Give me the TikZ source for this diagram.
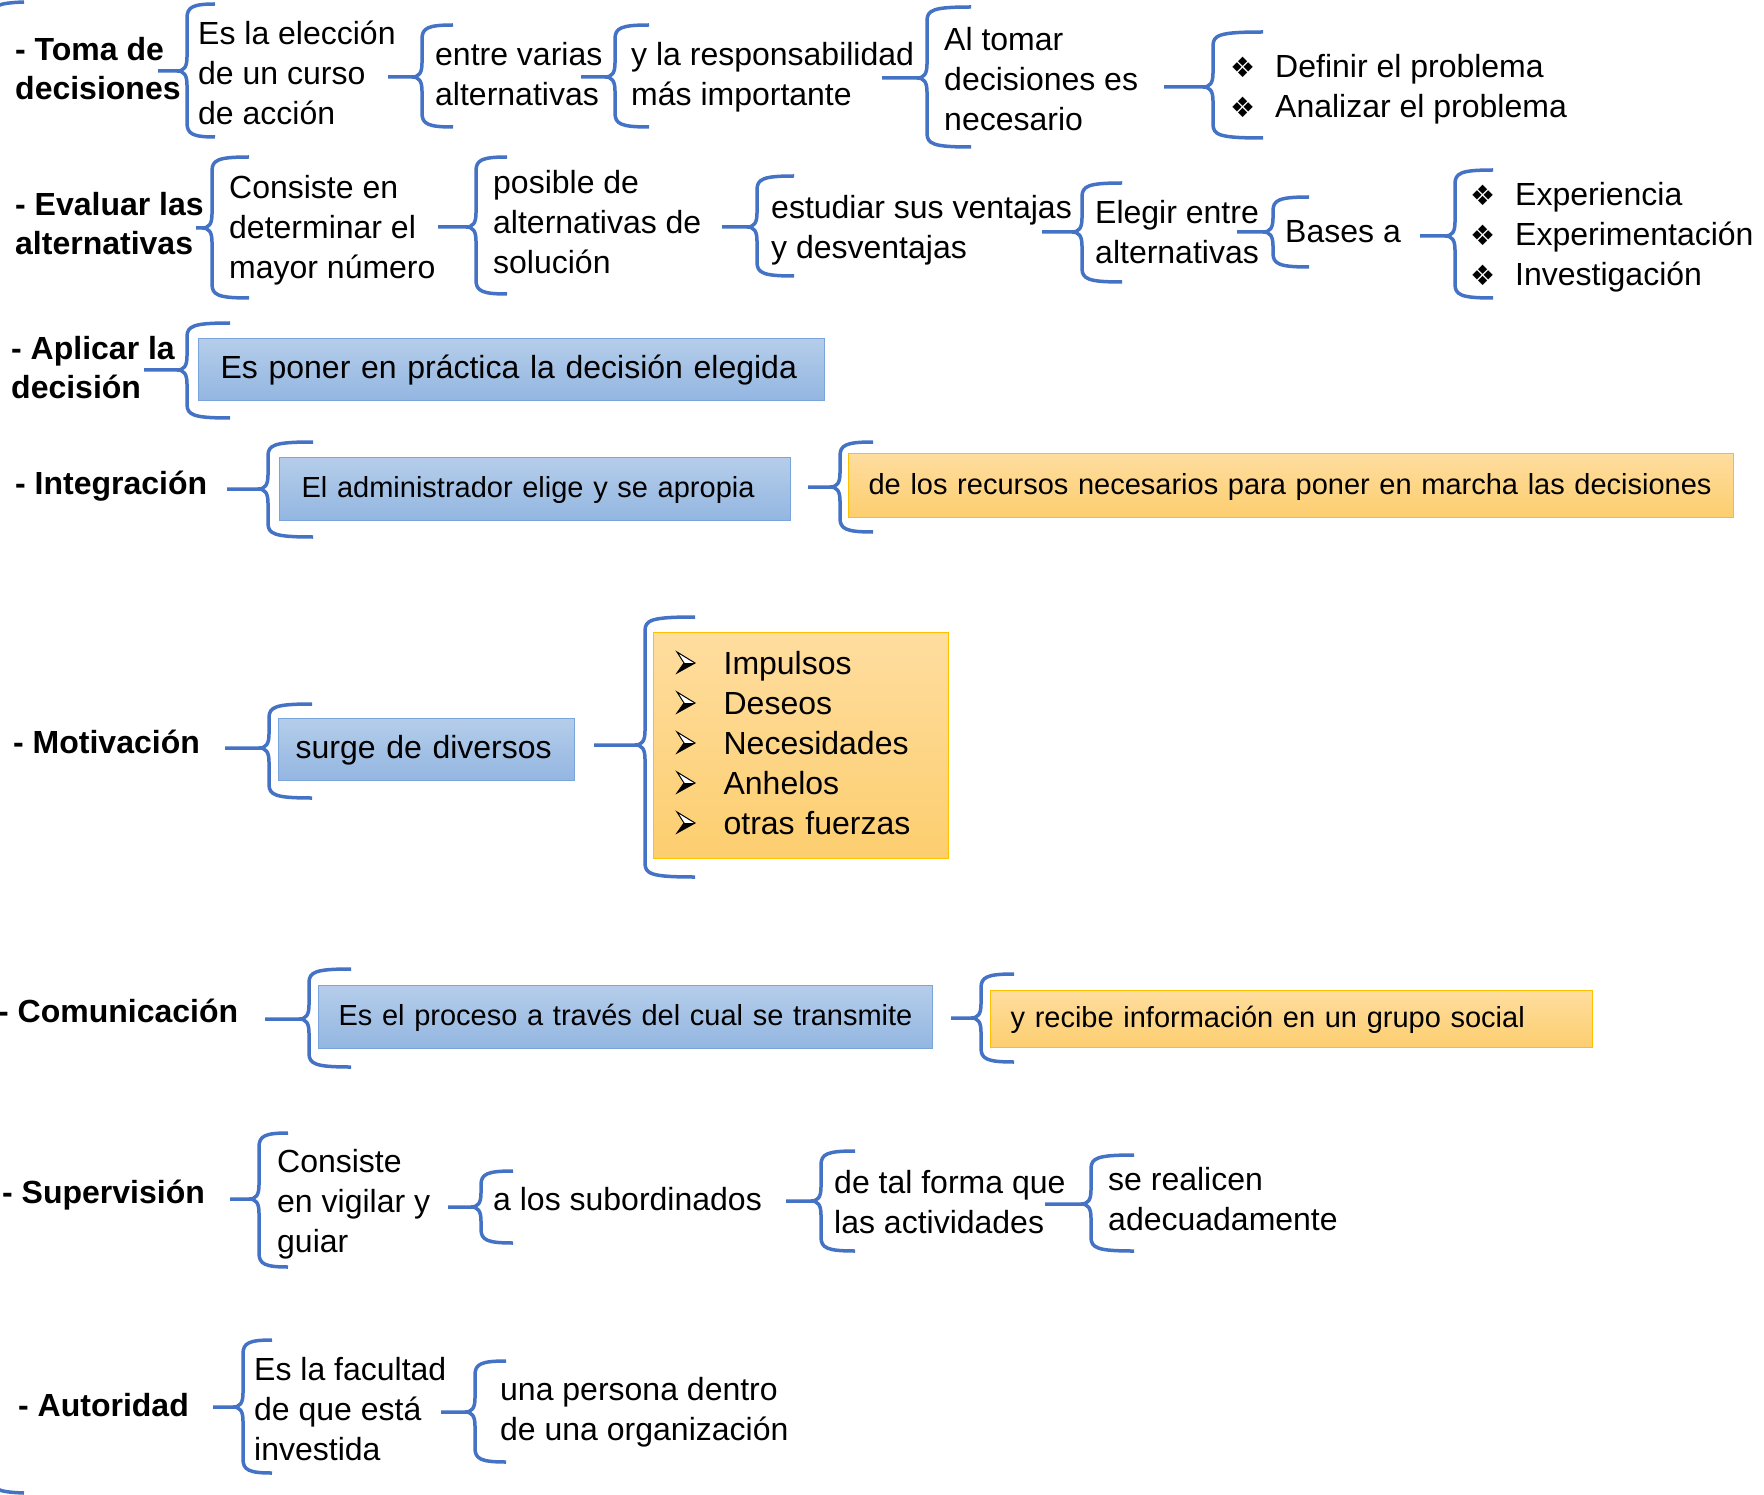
\documentclass[tikz,border=0pt]{standalone}
\usepackage{fontspec}
\setmainfont{Liberation Sans}
\newfontfamily\symfont{DejaVu Sans}

\definecolor{bracecol}{HTML}{4472C4}
\definecolor{blutop}{HTML}{B5CDEA}
\definecolor{blubot}{HTML}{93B6E1}
\definecolor{bluline}{HTML}{7AA5DA}
\definecolor{yeltop}{HTML}{FEDD9F}
\definecolor{yelbot}{HTML}{FDCE6F}
\definecolor{yelline}{HTML}{FFC000}

\newcommand{\tstrut}{\rule[-11pt]{0pt}{39pt}}
\newcommand{\dia}{\makebox[45pt][l]{\symfont\fontsize{28}{28}\selectfont ❖}}
\newcommand{\arrgap}{\hspace*{46pt}}
% brace: stub x, spine x, arm x, top y, bottom y, tip y
\newcommand{\cbrace}[6]{%
  \draw[brc] (#1,#6) -- (#2-10,#6) .. controls (#2-3,#6) and (#2,#6-4) .. (#2,#6-14)
    -- (#2,#4+14) .. controls (#2,#4+3) and (#2+6,#4) .. (#3,#4);
  \draw[brc] (#2-10,#6) .. controls (#2-3,#6) and (#2,#6+4) .. (#2,#6+14)
    -- (#2,#5-14) .. controls (#2,#5-3) and (#2+6,#5) .. (#3,#5);}

\begin{document}
\begin{tikzpicture}[x=1pt,y=-1pt,
  brc/.style={draw=bracecol,line width=3.5pt,line join=round},
  txt/.style={anchor=north west,inner sep=0pt,align=left,font=\fontsize{32}{40}\selectfont,
    execute at begin node=\tstrut,execute at end node=\tstrut},
  lbl/.style={txt,font=\fontsize{32}{39}\selectfont\bfseries},
  bbox/.style={txt,draw=bluline,line width=1.2pt,top color=blutop,bottom color=blubot},
  ybox/.style={txt,draw=yelline,line width=1.2pt,top color=yeltop,bottom color=yelbot},
  smalltxt/.style={font=\fontsize{29}{40}\selectfont}]
\useasboundingbox (0,0) rectangle (1764,1495);

% big brace at the left edge
\draw[brc] (-9,60) -- (-9,18) .. controls (-9,6) and (-3,3) .. (24,2);
\draw[brc] (-9,1440) -- (-9,1477) .. controls (-9,1489) and (-3,1492) .. (24,1493);

% Toma de decisiones
\node[lbl] (toma) at (15,37) {- Toma de\\decisiones};
\node[txt] (toma1) at (198,21) {Es la elección\\de un curso\\de acción};
\node[txt] (toma2) at (435,42) {entre varias\\alternativas};
\node[txt] (toma3) at (631,42) {y la responsabilidad\\más importante};
\node[txt] (toma4) at (944,27) {Al tomar\\decisiones es\\necesario};
\node[txt] (toma5) at (1230,54) {\dia Definir el problema\\\dia Analizar el problema};
\cbrace{158}{187}{215}{4}{137}{71}
\cbrace{388}{422}{453}{25}{127}{77}
\cbrace{581}{615}{649}{25}{127}{77}
\cbrace{882}{927}{971}{7}{147}{78}
\cbrace{1164}{1213}{1263}{32}{138}{87}

% Evaluar las alternativas
\node[lbl] (eval) at (15,192) {- Evaluar las\\alternativas};
\node[txt] (eval1) at (229,175) {Consiste en\\determinar el\\mayor número};
\node[txt] (eval2) at (493,170) {posible de\\alternativas de\\solución};
\node[txt] (eval3) at (771,195) {estudiar sus ventajas\\y desventajas};
\node[txt] (eval4) at (1095,200) {Elegir entre\\alternativas};
\node[txt] (eval5) at (1285,214) {Bases a};
\node[txt] (eval6) at (1470,182) {\dia Experiencia\\\dia Experimentación\\\dia Investigación};
\cbrace{196}{212}{249}{157}{298}{228}
\cbrace{438}{476}{507}{157}{294}{227}
\cbrace{722}{757}{794}{176}{276}{227}
\cbrace{1042}{1082}{1122}{183}{282}{232}
\cbrace{1237}{1273}{1309}{197}{267}{232}
\cbrace{1420}{1455}{1493}{170}{298}{236}

% Aplicar la decision
\node[lbl] (apli) at (11,336) {- Aplicar la\\decisión};
\node[bbox,minimum height=62pt,text width=582pt,inner xsep=22pt] (apli1) at (198,338)
  {Es poner en práctica la decisión elegida};
\cbrace{144}{187}{230}{323}{418}{370}

% Integracion
\node[lbl] (inte) at (15,466) {- Integración};
\node[bbox,smalltxt,minimum height=63pt,text width=467pt,inner xsep=22pt] (inte1) at (279,457)
  {El administrador elige y se apropia};
\node[ybox,smalltxt,minimum height=64pt,text width=845pt,inner xsep=20pt] (inte2) at (848,453)
  {de los recursos necesarios para poner en marcha las decisiones};
\cbrace{227}{268}{313}{442}{537}{489}
\cbrace{808}{840}{873}{442}{532}{487}

% Motivacion
\node[lbl] (moti) at (13,725) {- Motivación};
\node[bbox,minimum height=62pt,text width=262pt,inner xsep=17pt] (moti1) at (278,718)
  {surge de diversos};
\node[ybox,minimum height=226pt,text width=247pt,inner xsep=24pt] (moti2) at (653,632)
  {\arrgap Impulsos\\\arrgap Deseos\\\arrgap Necesidades\\\arrgap Anhelos\\\arrgap otras fuerzas};
\foreach \i in {0,...,4} {
  \pgfmathsetmacro\bl{673+40*\i}
  \draw[line width=1pt,fill=white,line join=miter] (677,\bl-21) -- (695,\bl-10) -- (677,\bl) -- (684,\bl-10) -- cycle;
  \fill (684,\bl-10) -- (695,\bl-10) -- (677,\bl) -- cycle;
}
\cbrace{225}{269}{312}{704}{798}{748}
\cbrace{594}{645}{695}{617}{877}{745}

% Comunicacion
\node[lbl] (comu) at (-2,994) {- Comunicación};
\node[bbox,smalltxt,minimum height=63pt,text width=574pt,inner xsep=20pt] (comu1) at (318,985)
  {Es el proceso a través del cual se transmite};
\node[ybox,smalltxt,minimum height=57pt,text width=562pt,inner xsep=20pt] (comu2) at (990,990)
  {y recibe información en un grupo social};
\cbrace{265}{309}{351}{969}{1067}{1019}
\cbrace{951}{981}{1014}{974}{1062}{1018}

% Supervision
\node[lbl] (supe) at (2,1175) {- Supervisión};
\node[txt] (supe1) at (277,1149) {Consiste\\en vigilar y\\guiar};
\node[txt] (supe2) at (493,1182) {a los subordinados};
\node[txt] (supe3) at (834,1170) {de tal forma que\\las actividades};
\node[txt] (supe4) at (1108,1167) {se realicen\\adecuadamente};
\cbrace{230}{259}{288}{1133}{1267}{1199}
\cbrace{448}{481}{513}{1171}{1243}{1207}
\cbrace{786}{821}{855}{1151}{1251}{1201}
\cbrace{1045}{1091}{1134}{1155}{1251}{1204}

% Autoridad
\node[lbl] (auto) at (18,1388) {- Autoridad};
\node[txt] (auto1) at (254,1357) {Es la facultad\\de que está\\investida};
\node[txt] (auto2) at (500,1377) {una persona dentro\\de una organización};
\cbrace{213}{243}{272}{1340}{1473}{1407}
\cbrace{441}{475}{506}{1361}{1462}{1412}
\end{tikzpicture}
\end{document}
